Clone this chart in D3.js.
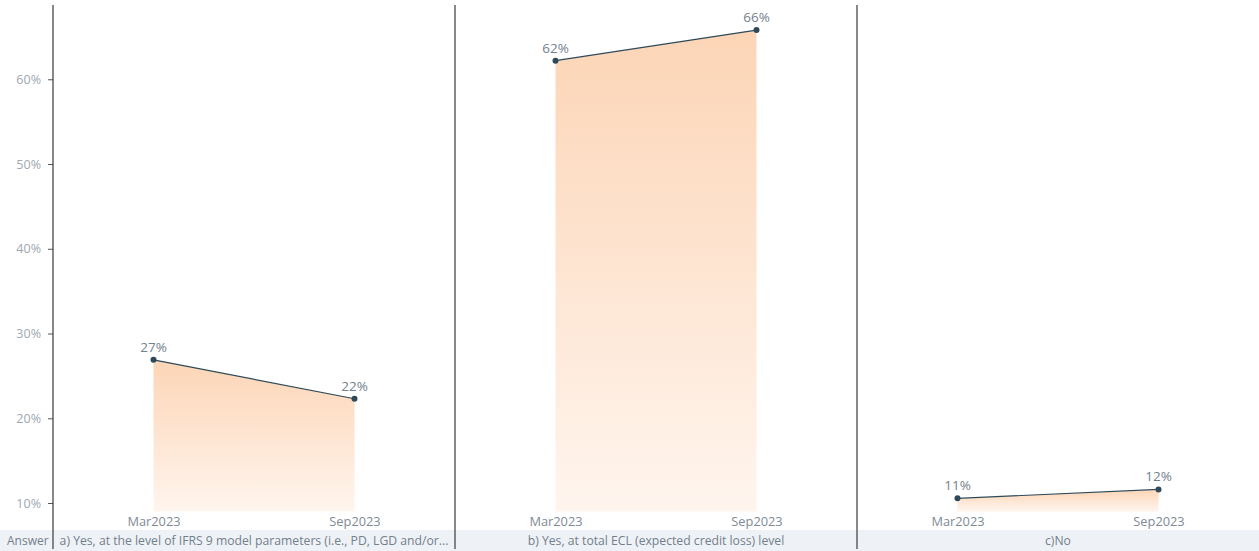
<!DOCTYPE html>
<html>
<head>
<meta charset="utf-8">
<script src="https://cdn.jsdelivr.net/npm/d3@7"></script>
<style>
  html, body { margin: 0; padding: 0; background: #fff; }
  svg { display: block; font-family: "Open Sans", "Noto Sans", sans-serif; }
</style>
</head>
<body>
<svg id="chart" width="1259" height="551"></svg>
<script>
// Answer categories (one panel each), survey periods and shares in percent
const answers = [
  "a) Yes, at the level of IFRS 9 model parameters (i.e., PD, LGD and/or...",
  "b) Yes, at total ECL (expected credit loss) level",
  "c)No"
];
const periods = ["Mar2023", "Sep2023"];
const valuesA = [26.9, 22.3];
const valuesB = [62.2, 65.8];
const valuesC = [10.55, 11.6];
const seriesValues = [valuesA, valuesB, valuesC];
const yTicks = [10, 20, 30, 40, 50, 60];
const rowHeader = "Answer";

(function () {
  const W = 1259, H = 551;
  const plotLeft = 53, plotTop = 3, plotBottom = 511.5, bandTop = 530;

  const svg = d3.select("#chart");

  // vertical gradient fill for the areas
  const defs = svg.append("defs");
  const grad = defs.append("linearGradient")
    .attr("id", "areaFill")
    .attr("x1", 0).attr("y1", 0).attr("x2", 0).attr("y2", 1);
  grad.append("stop").attr("offset", "0%").attr("stop-color", "#fcd5b6");
  grad.append("stop").attr("offset", "100%").attr("stop-color", "#fff5ee");

  const panelScale = d3.scaleBand().domain(answers).range([plotLeft, W]).paddingInner(0).paddingOuter(0);
  const y = d3.scaleLinear().domain([9, 69]).range([plotBottom, plotTop]);

  // bottom header band
  svg.append("rect")
    .attr("x", 0).attr("y", bandTop)
    .attr("width", W).attr("height", H - bandTop)
    .attr("fill", "#eef2f6");

  svg.append("text")
    .attr("x", 7).attr("y", 545)
    .attr("font-size", 12)
    .attr("fill", "#73808c")
    .text(rowHeader);

  // y axis
  const yAxis = d3.axisLeft(y)
    .tickValues(yTicks)
    .tickSize(5)
    .tickPadding(7)
    .tickFormat(d => d + "%");
  const gy = svg.append("g").attr("transform", `translate(${plotLeft},0)`).call(yAxis);
  gy.select(".domain").remove();
  gy.selectAll(".tick line").attr("stroke", "#555");
  gy.selectAll(".tick text")
    .attr("font-size", 12.5)
    .attr("font-family", "\"Open Sans\", sans-serif")
    .attr("fill", "#9ea8b2");

  // axis line and panel dividers
  const dividers = [plotLeft].concat(answers.slice(1).map(a => panelScale(a)));
  svg.selectAll("line.divider")
    .data(dividers)
    .enter().append("line")
    .attr("class", "divider")
    .attr("x1", d => d).attr("x2", d => d)
    .attr("y1", 5).attr("y2", 549)
    .attr("stroke", "#3a3a3a")
    .attr("stroke-width", 1.2);

  answers.forEach((ans, i) => {
    const x0 = panelScale(ans);
    const bw = panelScale.bandwidth();
    const x = d3.scalePoint().domain(periods).range([0, bw]).padding(0.5);
    const vals = seriesValues[i];
    const pts = periods.map((p, j) => ({ p, v: vals[j] }));

    const g = svg.append("g").attr("transform", `translate(${x0},0)`);

    const area = d3.area()
      .x(d => x(d.p))
      .y0(plotBottom)
      .y1(d => y(d.v));
    g.append("path")
      .datum(pts)
      .attr("d", area)
      .attr("fill", "url(#areaFill)");

    const line = d3.line().x(d => x(d.p)).y(d => y(d.v));
    g.append("path")
      .datum(pts)
      .attr("d", line)
      .attr("fill", "none")
      .attr("stroke", "#2e4a5a")
      .attr("stroke-width", 1.2);

    g.selectAll("circle")
      .data(pts)
      .enter().append("circle")
      .attr("cx", d => x(d.p))
      .attr("cy", d => y(d.v))
      .attr("r", 3)
      .attr("fill", "#2e4a5a");

    g.selectAll("text.val")
      .data(pts)
      .enter().append("text")
      .attr("class", "val")
      .attr("x", d => x(d.p))
      .attr("y", d => y(d.v) - 8)
      .attr("text-anchor", "middle")
      .attr("font-size", 13.5)
      .attr("fill", "#73818e")
      .text(d => Math.round(d.v) + "%");

    // period labels
    const xAxis = d3.axisBottom(x).tickSize(0).tickPadding(0);
    const gx = g.append("g").attr("transform", `translate(0,${plotBottom})`).call(xAxis);
    gx.select(".domain").remove();
    gx.selectAll(".tick text")
      .attr("dy", "1.1em")
      .attr("font-size", 12.8)
      .attr("font-family", "\"Open Sans\", sans-serif")
      .attr("fill", "#808a95");

    // category label in the band
    g.append("text")
      .attr("x", bw / 2)
      .attr("y", 545)
      .attr("text-anchor", "middle")
      .attr("font-size", 12.2)
      .attr("fill", "#73808c")
      .text(ans);
  });
})();
</script>
</body>
</html>
